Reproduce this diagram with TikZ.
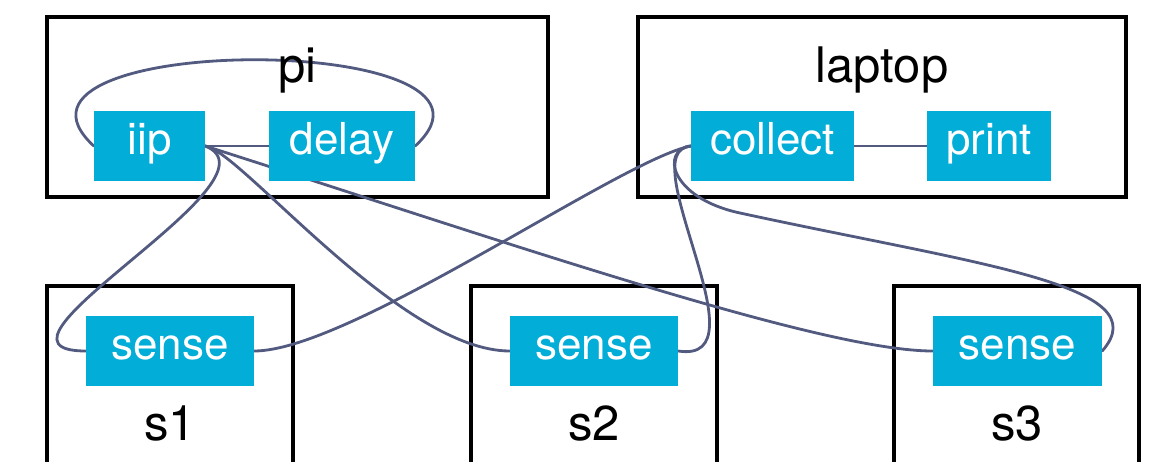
\documentclass[tikz,border=0pt]{standalone}
\usepackage{fontspec}
\setmainfont{TeX Gyre Heros}
\pgfdeclarelayer{frames}
\pgfdeclarelayer{edges}
\pgfsetlayers{frames,edges,main}
\definecolor{procfill}{HTML}{02ADD8}
\definecolor{linkcol}{HTML}{525A80}
\tikzset{
  proc/.style={fill=procfill, text=white, inner sep=0pt, minimum height=70pt,
    text height=29pt, text depth=13pt, font=\fontsize{44}{44}\selectfont},
  host/.style={draw=black, line width=3.2pt},
  hostlabel/.style={anchor=base, inner sep=0pt, font=\fontsize{49}{49}\selectfont},
  link/.style={draw=linkcol, line width=2.8pt, line cap=round},
}
\begin{document}
\begin{tikzpicture}[x=1pt,y=-1pt]
  \useasboundingbox (0,0) rectangle (1168,461);
  \clip (0,0) rectangle (1168,461);

  % host frames
  \begin{pgfonlayer}{frames}
    \draw[host] (47,17) rectangle (548,197);
    \draw[host] (638,17) rectangle (1126,197);
    \draw[host] (47,286) rectangle (293,480);
    \draw[host] (471,286) rectangle (717,480);
    \draw[host] (894,286) rectangle (1139,480);
  \end{pgfonlayer}

  % host names
  \node[hostlabel] (piname) at (297.5,82) {pi};
  \node[hostlabel] (laptopname) at (882,82) {laptop};
  \node[hostlabel] (sonename) at (170,440) {s1};
  \node[hostlabel] (stwoname) at (594,440) {s2};
  \node[hostlabel] (sthreename) at (1017,440) {s3};

  % processes
  \node[proc, minimum width=111pt] (iip) at (149.5,146) {iip};
  \node[proc, minimum width=146pt] (delay) at (342,146) {delay};
  \node[proc, minimum width=163pt] (collect) at (772.5,146) {collect};
  \node[proc, minimum width=124pt] (print) at (989,146) {print};
  \node[proc, minimum width=168pt] (sone) at (170,351) {sense};
  \node[proc, minimum width=168pt] (stwo) at (594,351) {sense};
  \node[proc, minimum width=169pt] (sthree) at (1017.5,351) {sense};

  \coordinate (bendthree) at (740,213);

  % links
  \begin{pgfonlayer}{edges}
    \draw[link] (iip.east) -- (delay.west);
    \draw[link] (collect.east) -- (print.west);
    \draw[link] (iip.west) .. controls (-31,31) and (540,31) .. (delay.east);
    \draw[link] (iip.east) .. controls (290,180) and (-40,351) .. (sone.west);
    \draw[link] (iip.east) .. controls (240,150) and (400,351) .. (stwo.west);
    \draw[link] (iip.east) .. controls (500,240) and (820,351) .. (sthree.west);
    \draw[link] (collect.west) .. controls (620,160) and (350,351) .. (sone.east);
    \draw[link] (collect.west) .. controls (630,150) and (768,365) .. (stwo.east);
    \draw[link] (collect.west) .. controls (660,150) and (670,198) .. (bendthree)
      .. controls (980,265) and (1160,285) .. (sthree.east);
  \end{pgfonlayer}
\end{tikzpicture}
\end{document}
